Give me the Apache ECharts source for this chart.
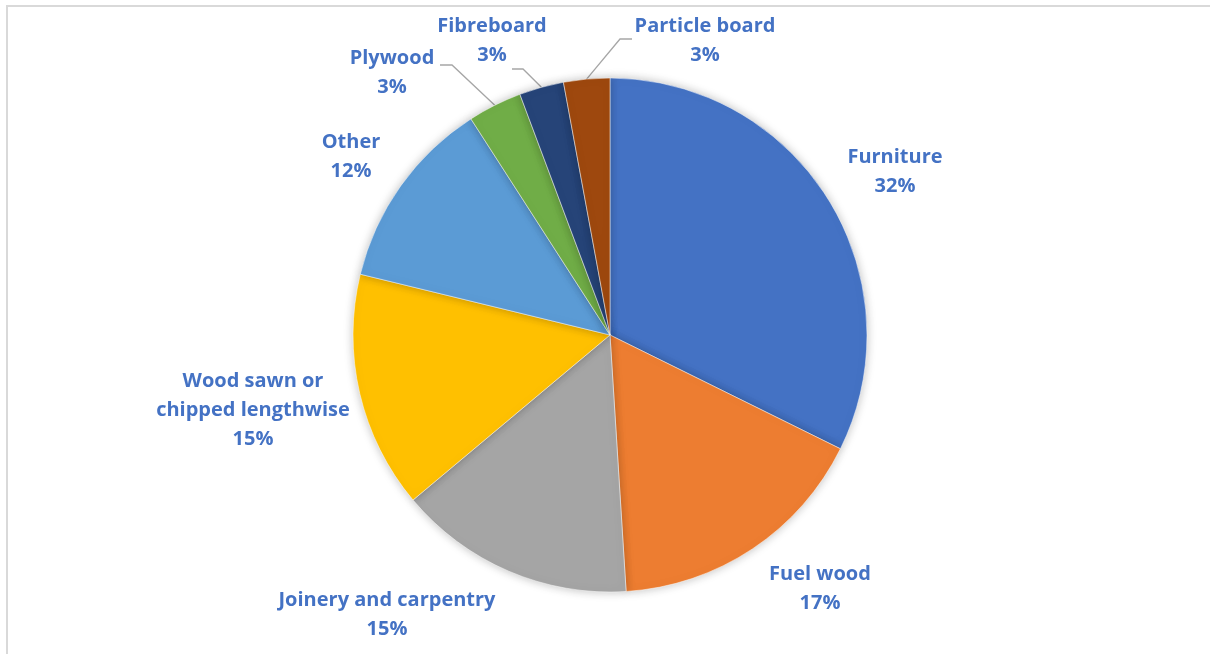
<!DOCTYPE html>
<html>
<head>
<meta charset="utf-8">
<script src="https://cdn.jsdelivr.net/npm/echarts@6/dist/echarts.min.js"></script>
<style>
html,body{margin:0;padding:0;background:#fff;}
#c{width:1210px;height:654px;}
</style>
</head>
<body>
<div id="c"></div>
<script>
// Data
const categories = ['Furniture', 'Fuel wood', 'Joinery and carpentry', 'Wood sawn or\nchipped lengthwise', 'Other', 'Plywood', 'Fibreboard', 'Particle board'];
const shares = [32.3, 16.7, 14.9, 14.9, 12.1, 3.4, 2.8, 2.9];
const colors = ['#4472C4', '#ED7D31', '#A5A5A5', '#FFC000', '#5B9BD5', '#70AD47', '#264478', '#9E480E'];
const withLeader = [false, false, false, false, false, true, true, true];

// Layout only: label block centres and leader-line label-side points [elbow, end]
const labelPos = [[895, 172], [820, 589], [387, 615], [253, 410], [351, 157], [392, 73], [492, 41], [705, 41]];
const leaderEnds = [null, null, null, null, null, [[452, 65], [440, 65]], [[523, 69], [512, 69]], [[620, 39], [632, 39]]];
const CX = 610, CY = 335, R = 257;

const total = shares.reduce((a, b) => a + b, 0);
const midAngles = [];
let acc = 0;
shares.forEach(v => { midAngles.push((acc + v / 2) / total * 2 * Math.PI); acc += v; });

const chart = echarts.init(document.getElementById('c'), null, {renderer: 'canvas'});
const data = categories.map((n, i) => ({
  name: n,
  value: shares[i],
  itemStyle: {color: colors[i]},
  labelLine: {show: withLeader[i]}
}));
chart.setOption({
  animation: false,
  backgroundColor: '#ffffff',
  graphic: [{
    type: 'rect',
    shape: {x: 7, y: 6, width: 1300, height: 700},
    style: {fill: 'none', stroke: '#d9d9d9', lineWidth: 2},
    silent: true
  }],
  series: [{
    type: 'pie',
    center: [CX, CY],
    radius: [0, R],
    startAngle: 90,
    clockwise: true,
    data: data,
    itemStyle: {
      borderColor: '#ffffff',
      borderWidth: 0.5,
      shadowBlur: 10,
      shadowColor: 'rgba(0,0,0,0.25)'
    },
    label: {
      show: true,
      position: 'outside',
      formatter: p => p.name + '\n' + Math.round(p.value) + '%',
      color: '#4472C4',
      fontFamily: '"Open Sans", Lato, sans-serif',
      fontWeight: 'bold',
      fontSize: 20,
      lineHeight: 29,
      align: 'center'
    },
    labelLine: {
      show: true,
      length: 10,
      length2: 12,
      lineStyle: {color: '#a6a6a6', width: 1.3}
    },
    labelLayout: function (params) {
      const i = params.dataIndex;
      const p = labelPos[i];
      const out = {x: p[0], y: p[1], align: 'center', verticalAlign: 'middle'};
      if (leaderEnds[i]) {
        const a = midAngles[i];
        const edge = [CX + R * Math.sin(a), CY - R * Math.cos(a)];
        out.labelLinePoints = [edge, leaderEnds[i][0], leaderEnds[i][1]];
      }
      return out;
    }
  }]
});
</script>
</body>
</html>
